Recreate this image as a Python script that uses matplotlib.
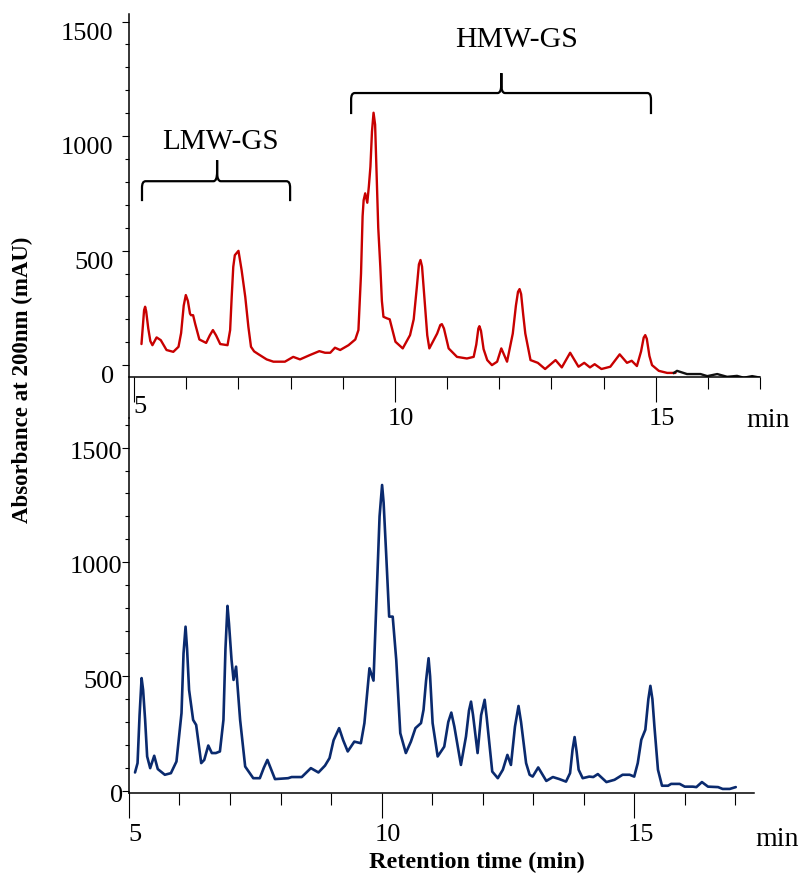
import numpy as np
import matplotlib
matplotlib.use('Agg')
import matplotlib.pyplot as plt
from matplotlib.path import Path
from matplotlib.patches import PathPatch
from matplotlib.ticker import MultipleLocator
import matplotlib.transforms as mtransforms

# ------------------------------------
# Datos de los cromatogramas (min, mAU)
# ------------------------------------
# Cromatograma superior (rojo)
t_sup = [5.14, 5.17, 5.19, 5.21, 5.23, 5.27, 5.31, 5.35, 5.43, 5.51, 5.62, 5.75,
         5.85, 5.90, 5.95, 5.99, 6.03, 6.07, 6.09, 6.13, 6.17, 6.25,
         6.38, 6.45, 6.51, 6.57, 6.65, 6.79, 6.84, 6.87, 6.90, 6.93, 7.00, 7.06,
         7.13, 7.19, 7.24, 7.30, 7.38, 7.54, 7.67, 7.89, 8.05, 8.18, 8.37, 8.55,
         8.66, 8.76, 8.85, 8.95, 9.11, 9.24, 9.30, 9.35, 9.38, 9.40, 9.43, 9.47,
         9.50, 9.53, 9.56, 9.59, 9.62, 9.65, 9.68, 9.72, 9.75, 9.78, 9.85, 9.90,
         10.01, 10.15, 10.29, 10.36, 10.42, 10.46, 10.49, 10.52, 10.57, 10.62,
         10.66, 10.81, 10.87, 10.90, 10.94, 11.03, 11.19, 11.38, 11.51, 11.56,
         11.60, 11.62, 11.65, 11.70, 11.77, 11.86, 11.96, 12.04, 12.15, 12.26,
         12.32, 12.36, 12.39, 12.42, 12.46, 12.50, 12.60, 12.74, 12.88, 13.08,
         13.20, 13.36, 13.52, 13.63, 13.74, 13.83, 13.96, 14.13, 14.31, 14.45,
         14.54, 14.64, 14.72, 14.77, 14.80, 14.83, 14.88, 14.93, 15.06, 15.22, 15.38]
abs_sup = [92, 180, 240, 255, 235, 160, 105, 87, 121, 109, 66, 58,
           80, 140, 260, 306, 280, 225, 218, 218, 180, 112,
           97, 130, 153, 130, 92, 87, 153, 298, 429, 480, 499, 415,
           298, 167, 80, 60, 48, 25, 15, 15, 36, 25, 44, 61,
           54, 54, 76, 66, 87, 112, 153, 400, 650, 720, 750, 709,
           780, 866, 1020, 1102, 1050, 822, 600, 429, 280, 211, 204, 200,
           102, 73, 131, 200, 340, 440, 459, 430, 280, 130,
           73, 138, 175, 179, 160, 73, 36, 29, 36, 90,
           160, 170, 150, 70, 22, 0, 15, 73, 15, 138,
           260, 320, 332, 310, 220, 138, 22, 10, -17, 22,
           -10, 54, -7, 10, -10, 4, -17, -7, 47, 10,
           19, -4, 60, 120, 131, 115, 40, 0, -25, -34, -34]

# Cola final del cromatograma superior (negro)
t_cola = [15.35, 15.41, 15.60, 15.86, 15.99, 16.18, 16.37, 16.56, 16.69, 16.85, 17.01]
abs_cola = [-34, -25, -39, -39, -48, -39, -51, -47, -55, -48, -55]

# Cromatograma inferior (azul)
t_inf = [5.12, 5.17, 5.21, 5.25, 5.28, 5.32, 5.36, 5.42, 5.50, 5.57, 5.71, 5.83,
         5.94, 6.04, 6.08, 6.12, 6.15, 6.19, 6.27, 6.33, 6.43, 6.49, 6.57, 6.64,
         6.72, 6.80, 6.87, 6.91, 6.95, 6.98, 7.03, 7.07, 7.12, 7.20, 7.30, 7.46,
         7.59, 7.67, 7.74, 7.80, 7.89, 8.15, 8.22, 8.42, 8.60, 8.75, 8.88, 8.97,
         9.05, 9.16, 9.24, 9.33, 9.46, 9.59, 9.66, 9.76, 9.84, 9.92, 9.96, 10.01,
         10.04, 10.09, 10.15, 10.22, 10.29, 10.37, 10.48, 10.58, 10.67, 10.78,
         10.83, 10.88, 10.93, 10.96, 11.01, 11.11, 11.24, 11.32, 11.38, 11.44,
         11.57, 11.67, 11.73, 11.77, 11.81, 11.90, 11.97, 12.04, 12.08, 12.19,
         12.30, 12.40, 12.49, 12.56, 12.64, 12.71, 12.76, 12.86, 12.93, 12.99,
         13.10, 13.26, 13.39, 13.52, 13.65, 13.73, 13.78, 13.82, 13.86, 13.90,
         13.98, 14.11, 14.19, 14.28, 14.45, 14.61, 14.77, 14.91, 15.00, 15.07,
         15.14, 15.22, 15.28, 15.32, 15.36, 15.40, 15.47, 15.55, 15.67, 15.73,
         15.90, 16.00, 16.16, 16.23, 16.34, 16.46, 16.66, 16.75, 16.89, 17.01]
abs_inf = [79, 120, 330, 492, 440, 309, 149, 98, 152, 94, 69, 76,
           127, 339, 600, 717, 620, 440, 309, 287, 120, 134, 197, 164,
           164, 171, 309, 620, 808, 730, 572, 484, 542, 309, 105, 54,
           54, 100, 134, 100, 50, 54, 59, 59, 98, 79, 109, 142,
           220, 273, 220, 171, 214, 207, 295, 535, 481, 965, 1200, 1337,
           1260, 1038, 761, 761, 572, 251, 164, 214, 273, 295,
           353, 480, 579, 500, 295, 149, 192, 300, 341, 280,
           112, 236, 350, 389, 330, 164, 330, 397, 320, 83,
           54, 91, 156, 112, 280, 370, 300, 120, 69, 61,
           101, 42, 59, 50, 39, 76, 180, 234, 170, 91,
           54, 61, 59, 72, 37, 47, 69, 69, 61, 120,
           222, 266, 400, 458, 400, 280, 91, 21, 21, 29,
           29, 17, 17, 15, 37, 17, 15, 7, 7, 15]

x_ticks = [5, 10, 15]
y_ticks = [0, 500, 1000, 1500]

plt.rcParams['font.family'] = 'Liberation Serif'

fig = plt.figure(figsize=(8.02, 8.76), dpi=100)
ax2 = fig.add_axes([0.1608, 0.0947, 0.7793, 0.4281])
ax1 = fig.add_axes([0.1608, 0.5696, 0.7868, 0.4144])
ax2.set_facecolor('none')
ax1.set_facecolor('none')

ax1.plot(t_sup, abs_sup, color='#C80000', linewidth=1.7,
         solid_joinstyle='round', solid_capstyle='round')
ax1.plot(t_cola, abs_cola, color='#111111', linewidth=1.7, solid_joinstyle='round')
ax2.plot(t_inf, abs_inf, color='#0A2A6E', linewidth=1.9,
         solid_joinstyle='round', solid_capstyle='round')

ax1.set_xlim(4.9, 17.0)
ax1.set_ylim(-52, 1533)
ax2.set_xlim(5.0, 17.37)
ax2.set_ylim(-11, 1630)


def ejes(ax, dy_lab, pad_y):
    for s in ['top', 'right']:
        ax.spines[s].set_visible(False)
    for s in ['left', 'bottom']:
        ax.spines[s].set_linewidth(1.1)
    ax.set_xticks(x_ticks)
    ax.set_yticks(y_ticks)
    ax.xaxis.set_minor_locator(MultipleLocator(1))
    ax.yaxis.set_minor_locator(MultipleLocator(100))
    ax.tick_params(axis='x', which='major', length=18, width=0.8, labelsize=19, pad=4.5)
    ax.tick_params(axis='x', which='minor', length=8.5, width=0.8)
    ax.tick_params(axis='y', which='major', length=5, width=0.8, labelsize=19, pad=pad_y)
    ax.tick_params(axis='y', which='minor', length=3, width=0.8)
    # desplazar etiquetas como en el original
    for lbl in ax.get_xticklabels():
        lbl.set_transform(lbl.get_transform() + mtransforms.ScaledTranslation(4.5 / 72, 0, fig.dpi_scale_trans))
    for lbl in ax.get_yticklabels():
        lbl.set_transform(lbl.get_transform() + mtransforms.ScaledTranslation(0, dy_lab / 72, fig.dpi_scale_trans))


ejes(ax1, -7, 6)
ejes(ax2, -2, -0.5)

# el "5" del panel superior queda mas arriba
lbl5 = ax1.get_xticklabels()[0]
lbl5.set_transform(lbl5.get_transform() + mtransforms.ScaledTranslation(0, 9 / 72, fig.dpi_scale_trans))

# eje y superior continua hasta el panel inferior
ax1.spines['left'].set_bounds(-230, 1533)


def llave(ax, x0, x1, xm, ybar, ylow, ytip, rx=0.07, ry=28):
    verts = [(x0, ylow), (x0, ybar - ry), (x0, ybar), (x0 + rx, ybar),
             (xm - rx, ybar), (xm, ybar), (xm, ybar + (ytip - ybar) * 0.45),
             (xm, ytip), (xm, ybar + (ytip - ybar) * 0.45), (xm, ybar), (xm + rx, ybar),
             (x1 - rx, ybar), (x1, ybar), (x1, ybar - ry), (x1, ylow)]
    codes = [Path.MOVETO, Path.LINETO, Path.CURVE3, Path.CURVE3,
             Path.LINETO, Path.CURVE3, Path.CURVE3,
             Path.LINETO, Path.LINETO, Path.CURVE3, Path.CURVE3,
             Path.LINETO, Path.CURVE3, Path.CURVE3, Path.LINETO]
    ax.add_patch(PathPatch(Path(verts, codes), facecolor='none', edgecolor='black',
                           linewidth=1.6, clip_on=False))


llave(ax1, 5.15, 7.99, 6.59, 803, 716, 895)
llave(ax1, 9.16, 14.91, 12.04, 1188, 1096, 1275)
ax1.text(6.65, 974, 'LMW-GS', fontsize=21, ha='center', va='center')
ax1.text(12.34, 1419, 'HMW-GS', fontsize=21.5, ha='center', va='center')

fig.text(768 / 802, 1 - 421 / 876, 'min', fontsize=20, ha='center', va='center')
fig.text(777 / 802, 1 - 840 / 876, 'min', fontsize=20, ha='center', va='center')

fig.text(22 / 802, 1 - 380 / 876, 'Absorbance at 200nm (mAU)', rotation=90,
         fontsize=16.5, fontweight='bold', ha='center', va='center')
fig.text(477 / 802, 1 - 862 / 876, 'Retention time (min)',
         fontsize=17.5, fontweight='bold', ha='center', va='center')

fig.savefig('out.png', dpi=100)
